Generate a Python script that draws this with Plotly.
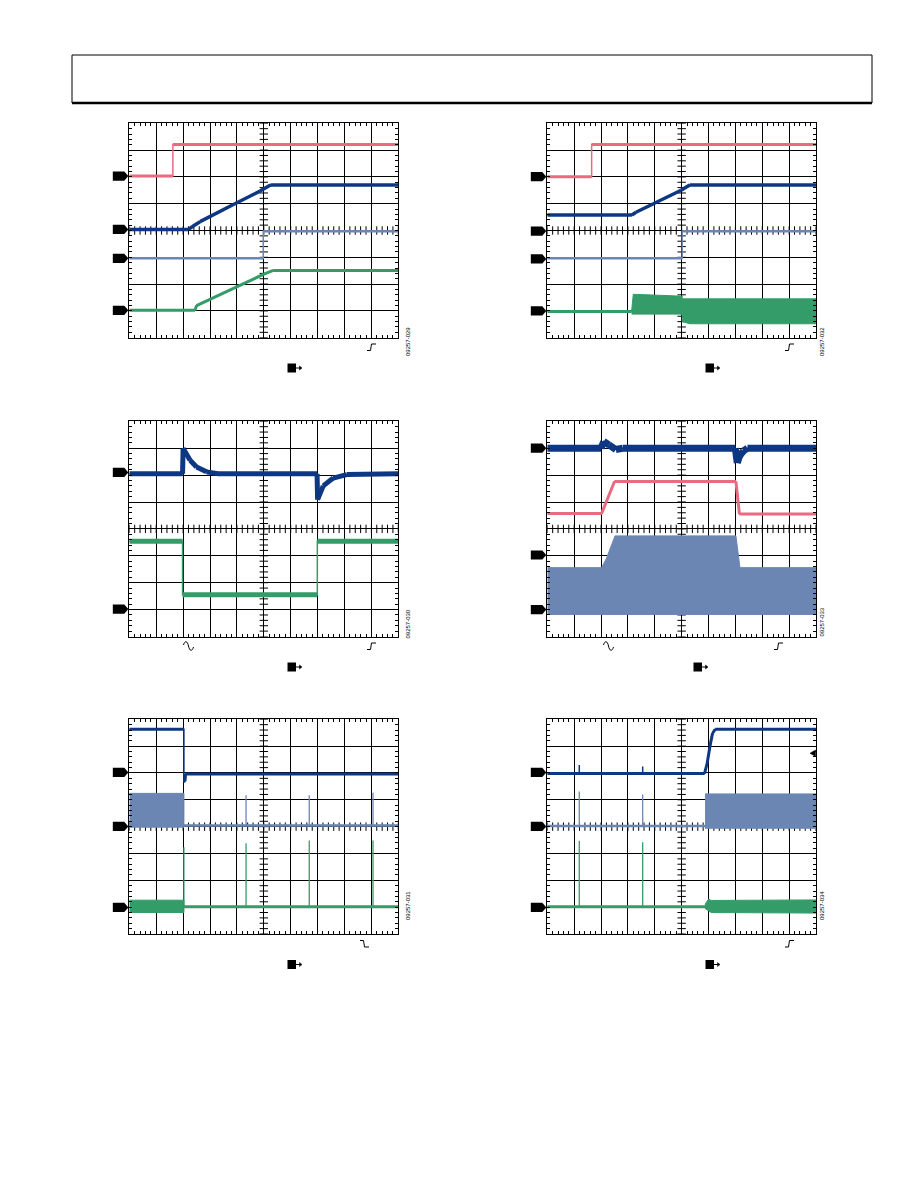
import numpy as np
import plotly.graph_objects as go

# page is drawn at an 8 px body margin inside the 918 x 1188 window
OFF = 8
W, H = 910, 1180
PINK = "#EA6A82"
NAVY = "#0D3782"
LBLUE = "#6C86B4"
GREEN = "#349C68"

# ---------------- data (screen divisions: x 0..10, y 0..8) ----------------
# Panel A (top left)
a_pink_x = [0, 1.62, 1.62, 10]
a_pink_y = [6.03, 6.03, 7.21, 7.21]
a_navy_x = [0, 2.2, 2.35, 2.63, 3.87, 4.86, 5.25, 10]
a_navy_y = [4.04, 4.04, 4.15, 4.33, 4.97, 5.47, 5.70, 5.70]
a_lblue_x = [0, 4.98, 4.98, 10]
a_lblue_y = [2.96, 2.96, 3.97, 3.97]
a_green_x = [0, 2.44, 2.5, 3.87, 4.98, 5.35, 10]
a_green_y = [1.02, 1.02, 1.2, 1.84, 2.36, 2.51, 2.51]
a_levels = [6.03, 4.04, 2.96, 1.02]

# Panel B (top right)
b_pink_x = [0, 1.65, 1.65, 10]
b_pink_y = [6.01, 6.01, 7.21, 7.21]
b_navy_x = [0, 3.15, 3.3, 4.98, 5.3, 10]
b_navy_y = [4.58, 4.58, 4.68, 5.5, 5.70, 5.70]
b_lblue_x = [0, 5.02, 5.02, 10]
b_lblue_y = [2.96, 2.96, 3.97, 3.97]
b_green_x = [0, 3.14]
b_green_y = [0.98, 0.98]
b_gband_x = [3.14, 3.2, 5.02, 5.02, 10, 10, 5.3, 5.02, 5.02, 3.14]
b_gband_y = [1.0, 1.62, 1.55, 1.45, 1.45, 0.52, 0.52, 0.6, 0.88, 0.88]
b_levels = [6.01, 3.98, 2.94, 1.0]

# Panel C (middle left)
c_navy_x = [0, 1.98, 2.0, 2.26, 2.5, 2.87, 3.3, 6.98, 7.0, 7.21, 7.58, 8.08, 10]
c_navy_y = [6.05, 6.05, 7.0, 6.55, 6.3, 6.12, 6.05, 6.05, 5.09, 5.6, 5.89, 6.02, 6.05]
c_green_x = [0, 1.98, 1.98, 6.99, 6.99, 10]
c_green_y = [3.54, 3.54, 1.55, 1.55, 3.54, 3.54]
c_levels = [6.1, 1.02]

# Panel D (middle right)
d_navy_x = [0, 2.0, 2.1, 2.3, 2.55, 2.8, 7.0, 7.07, 7.15, 7.3, 7.45, 10]
d_navy_y = [7.0, 7.0, 7.25, 7.12, 6.95, 7.0, 7.0, 6.45, 6.7, 6.9, 7.0, 7.0]
d_pink_x = [0, 2.02, 2.5, 7.02, 7.15, 10]
d_pink_y = [4.57, 4.57, 5.76, 5.76, 4.55, 4.55]
d_lband_x = [0, 2.02, 2.2, 2.52, 7.02, 7.17, 10, 10, 0]
d_lband_y = [2.56, 2.56, 2.9, 3.74, 3.74, 2.56, 2.56, 0.82, 0.82]
d_levels = [7.0, 3.03, 1.0]

# Panel E (bottom left)
e_navy_x = [0, 2.03, 2.03, 2.07, 2.09, 10]
e_navy_y = [7.63, 7.63, 5.68, 5.7, 5.96, 5.96]
e_lburst_x = [0, 2.03, 2.03, 0]
e_lburst_y = [5.24, 5.24, 3.98, 3.98]
e_lblue_x = [2.03, 10]
e_lblue_y = [4.04, 4.04]
e_lspike_x = [4.34, 6.69, 9.06]
e_lspike_top = [5.17, 5.17, 5.26]
e_gburst_x = [0, 2.03, 2.03, 0]
e_gburst_y = [1.26, 1.26, 0.80, 0.80]
e_green_x = [2.03, 10]
e_green_y = [1.02, 1.02]
e_gspike_x = [2.03, 4.34, 6.69, 9.06]
e_gspike_top = [3.23, 3.38, 3.48, 3.48]
e_levels = [6.02, 4.01, 0.99]

# Panel F (bottom right)
f_navy_x = [0, 5.85, 5.95, 6.05, 6.15, 6.25, 10]
f_navy_y = [5.98, 5.98, 6.36, 6.98, 7.48, 7.63, 7.63]
f_nspike_x = [1.19, 3.55]
f_nspike_top = [6.3, 6.24]
f_lblue_x = [0, 5.87]
f_lblue_y = [4.02, 4.02]
f_lspike_x = [1.19, 3.55]
f_lspike_top = [5.31, 5.2]
f_lband_x = [5.87, 10, 10, 5.87]
f_lband_y = [5.22, 5.22, 3.94, 3.94]
f_green_x = [0, 5.87]
f_green_y = [1.02, 1.02]
f_gspike_x = [1.19, 3.55]
f_gspike_top = [3.47, 3.42]
f_gband_x = [5.87, 6.0, 6.1, 10, 10, 6.1, 5.87]
f_gband_y = [1.1, 1.3, 1.25, 1.27, 0.78, 0.80, 0.95]
f_levels = [6.02, 4.01, 0.99]

figure_ids = ["09257-029", "09257-032", "09257-030", "09257-033", "09257-031", "09257-034"]

# ---------------- layout geometry (window pixels) ----------------
cols = [(129.3, 398.3), (547.3, 816.0)]
rows = [(123.3, 337.7), (421.3, 636.5), (719.3, 934.0)]


def px(x):
    return (x - OFF) / W


def py(y):
    return 1 - (y - OFF) / H


fig = go.Figure()
layout = dict(width=W, height=H, margin=dict(l=0, r=0, t=0, b=0), autosize=False,
              paper_bgcolor="white", plot_bgcolor="white", showlegend=False,
              hovermode=False)

shapes = []
annotations = []

tick_x = np.round(np.arange(0, 10.001, 0.2), 3)
tick_y = np.round(np.arange(0, 8.001, 0.2), 3)

for i in range(6):
    r, c = divmod(i, 2)
    n = i + 1
    xk = "xaxis" if n == 1 else f"xaxis{n}"
    yk = "yaxis" if n == 1 else f"yaxis{n}"
    xr = "x" if n == 1 else f"x{n}"
    yr = "y" if n == 1 else f"y{n}"
    common = dict(showgrid=True, gridcolor="black", gridwidth=1, tick0=0, dtick=1,
                  showticklabels=False, ticks="inside", ticklen=3, tickcolor="black",
                  tickwidth=1, showline=True, linecolor="black", linewidth=1,
                  mirror="allticks", zeroline=False, fixedrange=True,
                  minor=dict(tick0=0, dtick=0.2, ticks="inside", ticklen=3,
                             tickcolor="black", tickwidth=1, showgrid=False))
    layout[xk] = dict(common, domain=[px(cols[c][0]), px(cols[c][1])], range=[0, 10], anchor=yr)
    layout[yk] = dict(common, domain=[py(rows[r][1]), py(rows[r][0])], range=[0, 8], anchor=xr)
    # centre-line ticks
    fig.add_trace(go.Scatter(x=tick_x, y=[4] * len(tick_x), mode="markers", xaxis=xr, yaxis=yr,
                             marker=dict(symbol="line-ns", size=6, line=dict(width=1, color="black"))))
    fig.add_trace(go.Scatter(x=[5] * len(tick_y), y=tick_y, mode="markers", xaxis=xr, yaxis=yr,
                             marker=dict(symbol="line-ew", size=6, line=dict(width=1, color="black"))))


def axr(n):
    return ("x" if n == 1 else f"x{n}", "y" if n == 1 else f"y{n}")


def line(n, x, y, color, width):
    xr, yr = axr(n)
    fig.add_trace(go.Scatter(x=x, y=y, mode="lines", xaxis=xr, yaxis=yr,
                             line=dict(color=color, width=width)))


def trace(n, x, y, color, width):
    """Thin edges for fast (vertical) transitions, thick noisy-looking level segments."""
    line(n, x, y, color, 1.5)
    tx, ty = [], []
    for k in range(len(x) - 1):
        if x[k + 1] != x[k]:
            tx += [x[k], x[k + 1], None]
            ty += [y[k], y[k + 1], None]
    line(n, tx, ty, color, width)


def band(n, x, y, color):
    xr, yr = axr(n)
    fig.add_trace(go.Scatter(x=x, y=y, mode="lines", fill="toself", fillcolor=color, xaxis=xr,
                             yaxis=yr, line=dict(color=color, width=1)))


def spikes(n, xs, base, tops, color, width):
    sx, sy = [], []
    for xv, tv in zip(xs, tops):
        sx += [xv, xv, None]
        sy += [base, tv, None]
    line(n, sx, sy, color, width)


# Panel A
trace(1, a_pink_x, a_pink_y, PINK, 3)
trace(1, a_navy_x, a_navy_y, NAVY, 3.5)
trace(1, a_lblue_x, a_lblue_y, LBLUE, 2.5)
trace(1, a_green_x, a_green_y, GREEN, 3)
# Panel B
band(2, b_gband_x, b_gband_y, GREEN)
trace(2, b_green_x, b_green_y, GREEN, 3)
trace(2, b_pink_x, b_pink_y, PINK, 3)
trace(2, b_navy_x, b_navy_y, NAVY, 3.5)
trace(2, b_lblue_x, b_lblue_y, LBLUE, 2.5)
# Panel C
trace(3, c_navy_x, c_navy_y, NAVY, 5)
trace(3, c_green_x, c_green_y, GREEN, 5)
# Panel D
band(4, d_lband_x, d_lband_y, LBLUE)
trace(4, d_pink_x, d_pink_y, PINK, 3)
trace(4, d_navy_x, d_navy_y, NAVY, 7)
# Panel E
band(5, e_lburst_x, e_lburst_y, LBLUE)
band(5, e_gburst_x, e_gburst_y, GREEN)
trace(5, e_lblue_x, e_lblue_y, LBLUE, 2.5)
spikes(5, e_lspike_x, e_lblue_y[0], e_lspike_top, LBLUE, 1.3)
trace(5, e_green_x, e_green_y, GREEN, 3)
spikes(5, e_gspike_x, e_green_y[0], e_gspike_top, GREEN, 1.3)
trace(5, e_navy_x, e_navy_y, NAVY, 3)
# Panel F
band(6, f_lband_x, f_lband_y, LBLUE)
band(6, f_gband_x, f_gband_y, GREEN)
trace(6, f_lblue_x, f_lblue_y, LBLUE, 2.5)
spikes(6, f_lspike_x, f_lblue_y[0], f_lspike_top, LBLUE, 1.3)
trace(6, f_green_x, f_green_y, GREEN, 3)
spikes(6, f_gspike_x, f_green_y[0], f_gspike_top, GREEN, 1.3)
trace(6, f_navy_x, f_navy_y, NAVY, 3)
spikes(6, f_nspike_x, f_navy_y[0], f_nspike_top, NAVY, 1.5)

# channel ground markers (black arrow tags left of each screen)
all_levels = [a_levels, b_levels, c_levels, d_levels, e_levels, f_levels]
for i, levels in enumerate(all_levels):
    n = i + 1
    xr, yr = axr(n)
    wpx = 269.0
    hh = 4.6 / 26.8
    for lv in levels:
        path = (f"M {-16.5 / wpx},{lv - hh} L {-5 / wpx},{lv - hh} L {-1 / wpx},{lv} "
                f"L {-5 / wpx},{lv + hh} L {-16.5 / wpx},{lv + hh} Z")
        shapes.append(dict(type="path", xref=f"{xr} domain", yref=yr, path=path,
                           fillcolor="black", line=dict(color="black", width=0)))


def ppath(pts, close=False):
    s = "M " + " L ".join(f"{px(x)},{py(y)}" for x, y in pts)
    return s + (" Z" if close else "")


def rising(x0, y0):
    shapes.append(dict(type="path", xref="paper", yref="paper",
                       path=ppath([(x0, y0), (x0 + 3.5, y0), (x0 + 4.5, y0 - 6.5), (x0 + 9, y0 - 6.5)]),
                       line=dict(color="black", width=1)))


def falling(x0, y0):
    shapes.append(dict(type="path", xref="paper", yref="paper",
                       path=ppath([(x0, y0 - 6.5), (x0 + 3.5, y0 - 6.5), (x0 + 4.5, y0), (x0 + 9, y0)]),
                       line=dict(color="black", width=1)))


def sine(x0, yc):
    p = (f"M {px(x0)},{py(yc - 1)} C {px(x0 + 1.5)},{py(yc - 6)} {px(x0 + 4)},{py(yc - 5)} "
         f"{px(x0 + 5)},{py(yc)} C {px(x0 + 6)},{py(yc + 5)} {px(x0 + 8.5)},{py(yc + 6)} "
         f"{px(x0 + 10)},{py(yc + 1)}")
    shapes.append(dict(type="path", xref="paper", yref="paper", path=p,
                       line=dict(color="black", width=1)))


def run_icon(x0, y0):
    shapes.append(dict(type="rect", xref="paper", yref="paper", x0=px(x0), x1=px(x0 + 8.5),
                       y0=py(y0 + 9), y1=py(y0), fillcolor="black", line=dict(width=0)))
    shapes.append(dict(type="line", xref="paper", yref="paper", x0=px(x0 + 8.5), x1=px(x0 + 13),
                       y0=py(y0 + 4.5), y1=py(y0 + 4.5), line=dict(color="black", width=1)))
    shapes.append(dict(type="path", xref="paper", yref="paper",
                       path=ppath([(x0 + 12, y0 + 2.5), (x0 + 14.5, y0 + 4.5), (x0 + 12, y0 + 6.5)], True),
                       fillcolor="black", line=dict(color="black", width=0.5)))


run_icon(287.5, 363.5)
run_icon(705.5, 363.5)
run_icon(287.5, 662.5)
run_icon(693.5, 662.5)
run_icon(287.5, 960)
run_icon(705.5, 960)
rising(367, 350.5)
rising(785, 350.5)
rising(367, 649.5)
rising(774, 649.5)
falling(360, 947)
rising(785, 947)
sine(183.5, 646)
sine(603.5, 646)

# small level pointer inside panel F
shapes.append(dict(type="path", xref="paper", yref="paper",
                   path=ppath([(810, 753.2), (815.5, 750), (815.5, 756.4)], True),
                   fillcolor="black", line=dict(color="black", width=0.5)))

# gaps in graticule (erased label areas)
for (x0, x1, yy) in [(570, 597, 203.7), (563, 586, 501.2), (563, 588, 554.8), (200, 222, 583.0)]:
    shapes.append(dict(type="line", xref="paper", yref="paper", x0=px(x0), x1=px(x1),
                       y0=py(yy), y1=py(yy), line=dict(color="white", width=2.5), layer="below"))

# page header box
shapes.append(dict(type="rect", xref="paper", yref="paper", x0=px(72), x1=px(872),
                   y0=py(103), y1=py(55), line=dict(color="black", width=1)))
shapes.append(dict(type="line", xref="paper", yref="paper", x0=px(72), x1=px(872),
                   y0=py(103), y1=py(103), line=dict(color="black", width=2.5)))

# rotated figure ids
id_pos = [(407.5, 325), (826.5, 325), (407.5, 624), (826.5, 622), (407.5, 922), (826.5, 922)]
for (xx, yy), t in zip(id_pos, figure_ids):
    annotations.append(dict(x=px(xx), y=py(yy), xref="paper", yref="paper", text=t,
                            textangle=-90, showarrow=False,
                            font=dict(family="Liberation Sans, Arial", size=6, color="black")))

layout["shapes"] = shapes
layout["annotations"] = annotations
fig.update_layout(**layout)
fig.write_html("out.html")
